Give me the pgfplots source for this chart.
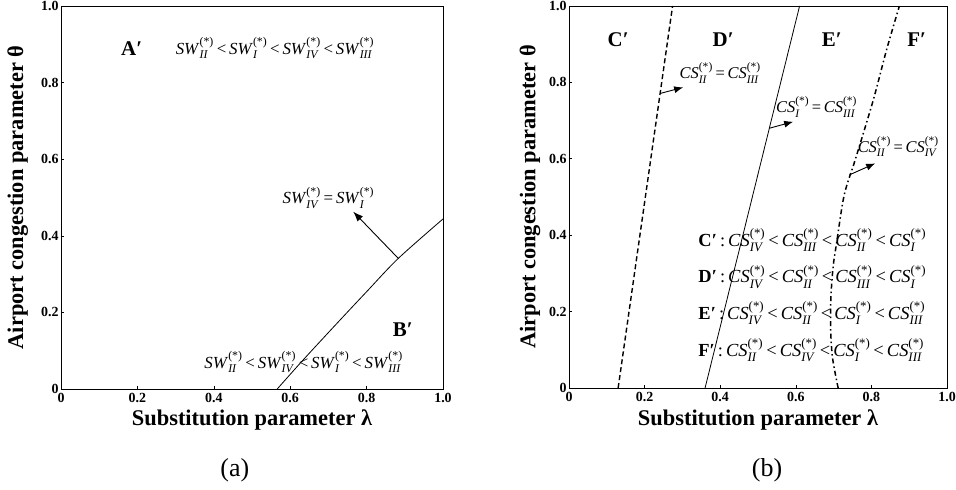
\documentclass[border=0pt]{standalone}
\usepackage{amsmath}
\usepackage{fontspec}
\setmainfont{Liberation Serif}
\usepackage{pgfplots}
\pgfplotsset{compat=1.18}
\usetikzlibrary{arrows.meta}
\newcommand{\V}[2]{\textit{#1}$^{\text{\upshape(*)}}_{\text{\itshape #2}}$}
\newcommand{\lt}{\,<\,}
\begin{document}
\begin{tikzpicture}[x=1bp,y=1bp]
\pgfplotsset{
  myax/.style={
    scale only axis, clip=false,
    xmin=0, xmax=1, ymin=0, ymax=1,
    axis line style={line width=0.9bp},
    xtick={0,0.2,0.4,0.6,0.8,1.0},
    ytick={0,0.2,0.4,0.6,0.8,1.0},
    xticklabels={0,0.2,0.4,0.6,0.8,1.0},
    yticklabels={0,0.2,0.4,0.6,0.8,1.0},
    tick align=inside, tick pos=left,
    major tick length=3bp,
    tick style={line width=0.6bp,black},
    ticklabel style={font=\bfseries\fontsize{14}{14}\selectfont},
    xticklabel style={yshift=-1bp},
    yticklabel style={xshift=1bp},
    xlabel={Substitution parameter λ},
    ylabel={Airport congestion parameter θ},
    label style={font=\bfseries\fontsize{22.5}{22.5}\selectfont},
  }
}
% (a)
\begin{axis}[myax, at={(0,0)}, anchor=south west, width=382bp, height=383bp,
  xlabel style={at={(axis description cs:0.5,-0.081)},anchor=center},
  ylabel style={at={(axis description cs:-0.113,0.5)},anchor=center}]
\addplot[black, line width=0.8bp, smooth] coordinates {(0.566,0) (0.634,0.076) (0.722,0.171) (0.80,0.254) (0.883,0.341) (1.0,0.444)};
\draw[-{Latex[length=10bp,width=7.5bp]}, line width=0.9bp] (axis cs:0.883,0.341) -- (axis cs:0.765,0.463);
\node[font=\fontsize{17}{17}\selectfont] at (axis cs:0.70,0.50) {\V{SW}{IV}\,=\,\V{SW}{I}};
\node[font=\bfseries\fontsize{21}{21}\selectfont] at (axis cs:0.185,0.89) {A′};
\node[font=\fontsize{17}{17}\selectfont] at (axis cs:0.56,0.89) {\V{SW}{II}\lt\V{SW}{I}\lt\V{SW}{IV}\lt\V{SW}{III}};
\node[font=\bfseries\fontsize{21}{21}\selectfont] at (axis cs:0.895,0.154) {B′};
\node[font=\fontsize{17}{17}\selectfont] at (axis cs:0.635,0.07) {\V{SW}{II}\lt\V{SW}{IV}\lt\V{SW}{I}\lt\V{SW}{III}};
\node[font=\fontsize{26}{26}\selectfont] at (axis description cs:0.455,-0.211) {(a)};
\end{axis}
% (b)
\begin{axis}[myax, at={(508bp,1bp)}, anchor=south west, width=378bp, height=382bp,
  xlabel style={at={(axis description cs:0.5,-0.083)},anchor=center},
  ylabel style={at={(axis description cs:-0.103,0.5)},anchor=center}]
\addplot[black, line width=1.4bp, dash pattern=on 5bp off 3bp] coordinates {(0.13,0) (0.274,1)};
\addplot[black, line width=0.8bp] coordinates {(0.36,0) (0.61,1)};
\addplot[black, line width=1.5bp, smooth, dash pattern=on 5bp off 3bp on 1.5bp off 3bp] coordinates {(0.712,0) (0.697,0.08) (0.692,0.16) (0.693,0.24) (0.699,0.32) (0.708,0.38) (0.728,0.505) (0.758,0.60) (0.805,0.754) (0.84,0.885) (0.874,1.0)};
\draw[-{Latex[length=9bp,width=7bp]}, line width=0.9bp] (axis cs:0.241,0.771) -- (axis cs:0.302,0.787);
\draw[-{Latex[length=9bp,width=7bp]}, line width=0.9bp] (axis cs:0.53,0.68) -- (axis cs:0.593,0.697);
\draw[-{Latex[length=9bp,width=7bp]}, line width=0.9bp] (axis cs:0.742,0.558) -- (axis cs:0.81,0.588);
\node[font=\fontsize{16.5}{16.5}\selectfont] at (axis cs:0.40,0.825) {\V{CS}{II}\,=\,\V{CS}{III}};
\node[font=\fontsize{16.5}{16.5}\selectfont] at (axis cs:0.655,0.736) {\V{CS}{I}\,=\,\V{CS}{III}};
\node[font=\fontsize{16.5}{16.5}\selectfont] at (axis cs:0.871,0.632) {\V{CS}{II}\,=\,\V{CS}{IV}};
\node[font=\bfseries\fontsize{21}{21}\selectfont] at (axis cs:0.13,0.913) {C′};
\node[font=\bfseries\fontsize{21}{21}\selectfont] at (axis cs:0.408,0.913) {D′};
\node[font=\bfseries\fontsize{21}{21}\selectfont] at (axis cs:0.695,0.913) {E′};
\node[font=\bfseries\fontsize{21}{21}\selectfont] at (axis cs:0.92,0.913) {F′};
\node[font=\fontsize{18.5}{18.5}\selectfont, anchor=west, inner sep=0pt] at (axis cs:0.342,0.387) {\textbf{C′}\,:\,\V{CS}{IV}\lt\V{CS}{III}\lt\V{CS}{II}\lt\V{CS}{I}};
\node[font=\fontsize{18.5}{18.5}\selectfont, anchor=west, inner sep=0pt] at (axis cs:0.342,0.291) {\textbf{D′}\,:\,\V{CS}{IV}\lt\V{CS}{II}\lt\V{CS}{III}\lt\V{CS}{I}};
\node[font=\fontsize{18.5}{18.5}\selectfont, anchor=west, inner sep=0pt] at (axis cs:0.342,0.196) {\textbf{E′}\,:\,\V{CS}{IV}\lt\V{CS}{II}\lt\V{CS}{I}\lt\V{CS}{III}};
\node[font=\fontsize{18.5}{18.5}\selectfont, anchor=west, inner sep=0pt] at (axis cs:0.342,0.099) {\textbf{F′}\,:\,\V{CS}{II}\lt\V{CS}{IV}\lt\V{CS}{I}\lt\V{CS}{III}};
\node[font=\fontsize{26}{26}\selectfont] at (axis description cs:0.524,-0.215) {(b)};
\end{axis}
\pgfresetboundingbox
\path[use as bounding box] (-61bp,-101bp) rectangle (895bp,389bp);
\end{tikzpicture}
\end{document}
